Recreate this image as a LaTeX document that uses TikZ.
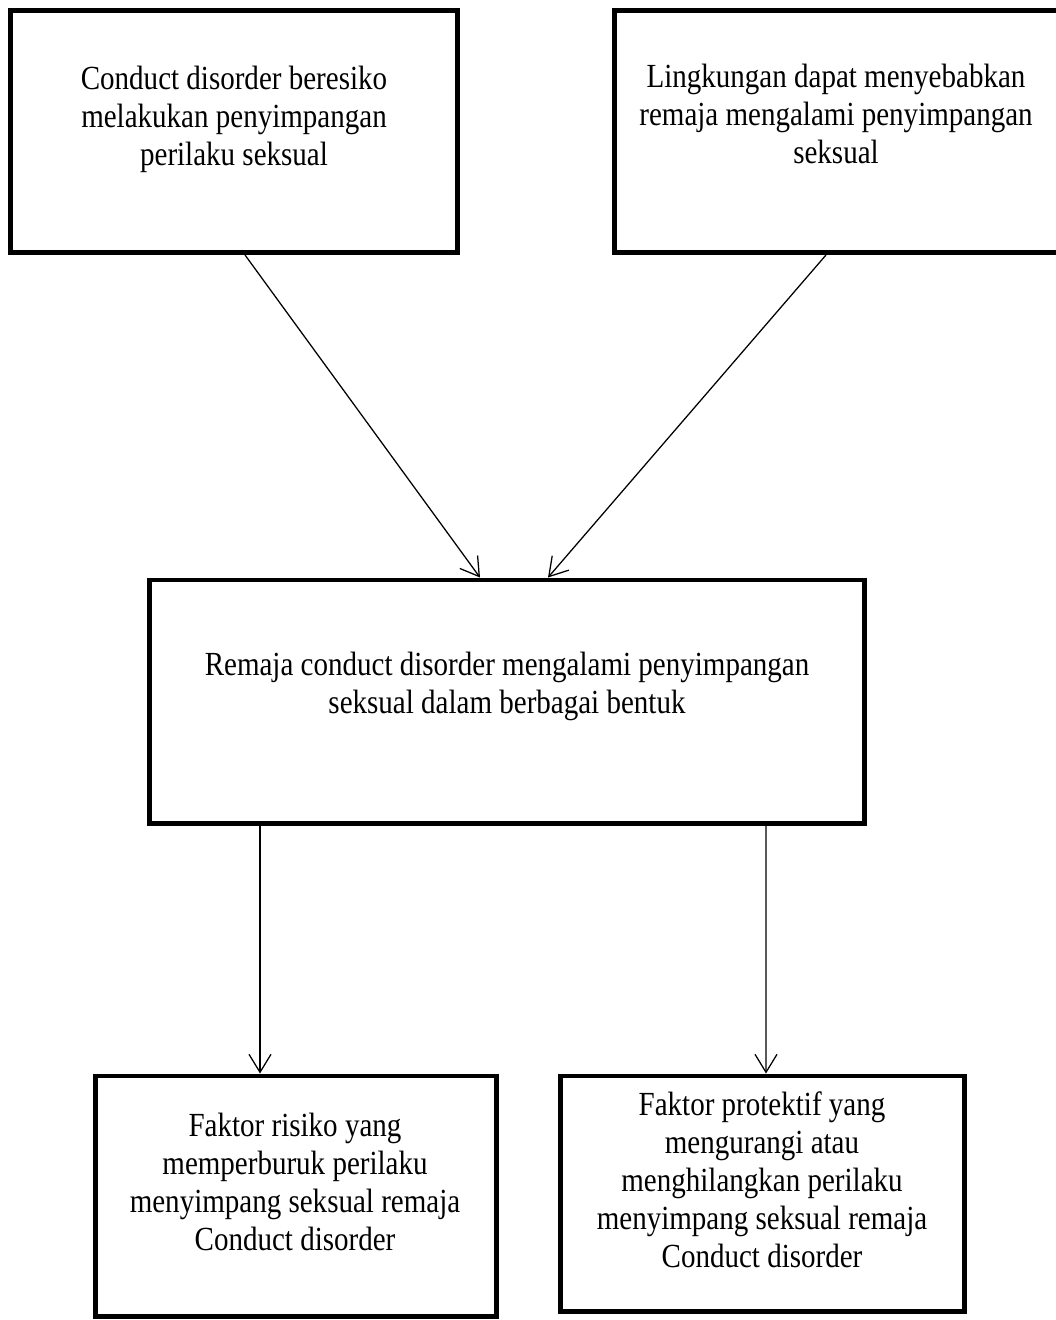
\documentclass[tikz,border=0pt]{standalone}
\usepackage{fontspec}
\setmainfont[FakeStretch=0.86]{Liberation Serif}
\usetikzlibrary{arrows.meta,calc}
\tikzset{
  box/.style={draw, line width=3.5pt, inner sep=0pt},
  txt/.style={align=center, inner sep=0pt, anchor=base,
    font=\fontsize{24}{27}\selectfont},
  link/.style={line width=0.9pt, -{Straight Barb[length=0.45cm,width=0.55cm,line width=0.9pt]}}
}
\begin{document}
\begin{tikzpicture}[x=0.025cm, y=-0.025cm]
  \useasboundingbox (0,0) rectangle (1056,1320);
  \node[box, minimum width=11.18cm, minimum height=6.05cm] (cd) at (234,131.5) {};
  \node[box, minimum width=11.18cm, minimum height=6.05cm] (env) at (838,131.5) {};
  \node[box, minimum width=17.875cm, minimum height=6.075cm] (rem) at (507,701.5) {};
  \node[box, minimum width=10.0cm, minimum height=6.0cm] (risk) at (296,1196) {};
  \node[box, minimum width=10.1cm, minimum height=5.875cm] (prot) at (762.5,1193.5) {};
  % texts are placed by the baseline of their last line
  \node[txt] (cdtxt) at (234,165) {Conduct disorder beresiko\\melakukan penyimpangan\\perilaku seksual};
  \node[txt] (envtxt) at (836,163) {Lingkungan dapat menyebabkan\\remaja mengalami penyimpangan\\seksual};
  \node[txt] (remtxt) at (507,713) {Remaja conduct disorder mengalami penyimpangan\\seksual dalam berbagai bentuk};
  \node[txt] (risktxt) at (295,1250) {Faktor risiko yang\\memperburuk perilaku\\menyimpang seksual remaja\\Conduct disorder};
  \node[txt] (prottxt) at (762,1267) {Faktor protektif yang\\mengurangi atau\\menghilangkan perilaku\\menyimpang seksual remaja\\Conduct disorder};
  \begin{scope}[link]
    \draw ($(cd.south)+(11,0)$) -- ($(rem.north)+(-27,0)$);
    \draw ($(env.south)+(-12,0)$) -- ($(rem.north)+(41,0)$);
    \draw ($(rem.south)+(-247,0)$) -- ($(risk.north)+(-36,0)$);
    \draw ($(rem.south)+(259,0)$) -- ($(prot.north)+(3.5,0)$);
  \end{scope}
\end{tikzpicture}
\end{document}
